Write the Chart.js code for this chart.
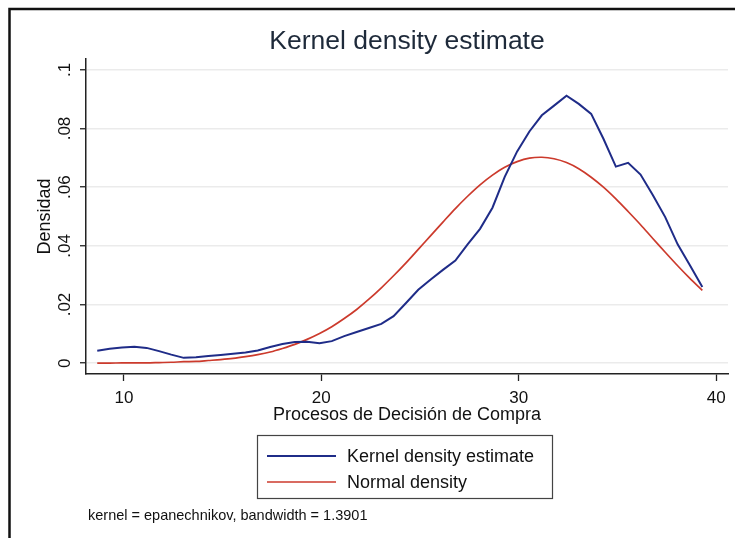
<!DOCTYPE html>
<html>
<head>
<meta charset="utf-8">
<script src="https://cdn.jsdelivr.net/npm/chart.js@4.4.1/dist/chart.umd.min.js"></script>
<style>
  html, body { margin: 0; padding: 0; background: #ffffff; }
  #wrap { width: 735px; height: 538px; }
</style>
</head>
<body>
<div id="wrap"><canvas id="c" width="735" height="538"></canvas></div>
<script>
// Evaluation points of the density (Procesos de Decisión de Compra)
const evalPoints = [
  8.65, 9.28, 9.90, 10.53, 11.15, 11.78, 12.40, 13.03, 13.65, 14.28,
  14.90, 15.53, 16.16, 16.78, 17.41, 18.03, 18.66, 19.28, 19.91, 20.53,
  21.16, 21.79, 22.41, 23.04, 23.66, 24.29, 24.91, 25.54, 26.16, 26.79,
  27.41, 28.04, 28.67, 29.29, 29.92, 30.54, 31.17, 31.79, 32.42, 33.04,
  33.67, 34.29, 34.92, 35.54, 36.17, 36.79, 37.42, 38.05, 38.67, 39.30
];

// Kernel density estimate (epanechnikov)
const kernelDensity = [
  0.0042, 0.0049, 0.0053, 0.0056, 0.0052, 0.0041, 0.0029, 0.0018, 0.0020, 0.0024,
  0.0028, 0.0032, 0.0036, 0.0043, 0.0055, 0.0065, 0.0072, 0.0073, 0.0068, 0.0075,
  0.0092, 0.0106, 0.0120, 0.0134, 0.0160, 0.0205, 0.0250, 0.0285, 0.0318, 0.0350,
  0.0405, 0.0458, 0.0530, 0.0635, 0.0722, 0.0790, 0.0845, 0.0878, 0.0912, 0.0884,
  0.0850, 0.0765, 0.0670, 0.0683, 0.0643, 0.0573, 0.0498, 0.0405, 0.0334, 0.0260
];

// Normal density overlay
const normalDensity = [
  0.0000, 0.0000, 0.0001, 0.0001, 0.0001, 0.0002, 0.0003, 0.0005, 0.0006, 0.0009,
  0.0012, 0.0016, 0.0022, 0.0029, 0.0038, 0.0050, 0.0064, 0.0081, 0.0101, 0.0124,
  0.0152, 0.0183, 0.0218, 0.0257, 0.0298, 0.0342, 0.0388, 0.0435, 0.0481, 0.0527,
  0.0569, 0.0608, 0.0641, 0.0668, 0.0687, 0.0699, 0.0702, 0.0697, 0.0684, 0.0663,
  0.0634, 0.0600, 0.0560, 0.0517, 0.0472, 0.0425, 0.0378, 0.0332, 0.0289, 0.0248
];

const xTicks = [10, 20, 30, 40];
const xTickLabels = ['10', '20', '30', '40'];
const yTicks = [0, 0.02, 0.04, 0.06, 0.08, 0.1];
const yTickLabels = ['0', '.02', '.04', '.06', '.08', '.1'];

const seriesLabels = ['Kernel density estimate', 'Normal density'];
const titleText = 'Kernel density estimate';
const xTitle = 'Procesos de Decisión de Compra';
const yTitle = 'Densidad';
const noteText = 'kernel = epanechnikov, bandwidth = 1.3901';

const BLUE = '#1f2c88';
const RED = '#cc3a2c';
const INK = '#111111';
const AXIS = '#222222';

Chart.defaults.font.family = "'Liberation Sans', Arial, Helvetica, sans-serif";
Chart.defaults.color = INK;

// White page, outer frame, boxed legend and the kernel note
const decorations = {
  id: 'decorations',
  beforeDraw(chart) {
    const ctx = chart.ctx;
    ctx.save();
    ctx.fillStyle = '#ffffff';
    ctx.fillRect(0, 0, chart.width, chart.height);
    ctx.restore();
  },
  afterDraw(chart) {
    const ctx = chart.ctx;
    ctx.save();
    // frame (top and left edges)
    ctx.strokeStyle = '#111111';
    ctx.lineWidth = 2.5;
    ctx.beginPath();
    ctx.moveTo(chart.width, 9);
    ctx.lineTo(9.5, 9);
    ctx.lineTo(9.5, chart.height);
    ctx.stroke();

    // legend box
    const box = { left: 257, top: 435, right: 552, bottom: 498 };
    ctx.strokeStyle = '#444444';
    ctx.lineWidth = 1.2;
    ctx.strokeRect(box.left + 0.5, box.top + 0.5, box.right - box.left, box.bottom - box.top);

    const rows = [456, 482];
    ctx.font = "18px 'Liberation Sans', Arial, sans-serif";
    ctx.textBaseline = 'middle';
    ctx.textAlign = 'left';
    chart.data.datasets.forEach((ds, i) => {
      ctx.strokeStyle = ds.borderColor;
      ctx.lineWidth = ds.borderWidth;
      ctx.beginPath();
      ctx.moveTo(267, rows[i]);
      ctx.lineTo(336, rows[i]);
      ctx.stroke();
      ctx.fillStyle = INK;
      ctx.fillText(ds.label, 347, rows[i] + 1);
    });

    // note
    ctx.font = "14.5px 'Liberation Sans', Arial, sans-serif";
    ctx.fillStyle = INK;
    ctx.fillText(noteText, 88, 516);
    ctx.restore();
  }
};

new Chart(document.getElementById('c'), {
  type: 'line',
  data: {
    datasets: [
      {
        label: seriesLabels[0],
        data: evalPoints.map((x, i) => ({ x: x, y: kernelDensity[i] })),
        borderColor: BLUE,
        borderWidth: 2,
        pointRadius: 0,
        tension: 0,
        fill: false
      },
      {
        label: seriesLabels[1],
        data: evalPoints.map((x, i) => ({ x: x, y: normalDensity[i] })),
        borderColor: RED,
        borderWidth: 1.7,
        pointRadius: 0,
        tension: 0.3,
        fill: false
      }
    ]
  },
  options: {
    responsive: false,
    animation: false,
    devicePixelRatio: 1,
    layout: { padding: { left: 8, right: 7, top: 0, bottom: 110 } },
    plugins: {
      legend: { display: false },
      tooltip: { enabled: false },
      title: {
        display: true,
        text: titleText,
        fullSize: false,
        color: '#1e2a3a',
        font: { size: 26.5, weight: 'normal' },
        padding: { top: 26, bottom: 1.2 }
      }
    },
    scales: {
      x: {
        type: 'linear',
        min: 8.08,
        max: 40.6,
        afterBuildTicks: s => { s.ticks = xTicks.map(v => ({ value: v })); },
        afterFit: s => { s.height = 54; },
        grid: { drawOnChartArea: false, drawTicks: true, tickLength: 7, tickColor: AXIS, tickWidth: 1.3 },
        border: { display: true, color: AXIS, width: 1.5 },
        ticks: {
          autoSkip: false,
          maxRotation: 0,
          padding: 7.5,
          color: INK,
          font: { size: 17 },
          callback: (v, i) => xTickLabels[i]
        },
        title: {
          display: true,
          text: xTitle,
          color: INK,
          font: { size: 18 },
          padding: { top: 0, bottom: 1.7 }
        }
      },
      y: {
        type: 'linear',
        min: -0.0037,
        max: 0.1037,
        afterBuildTicks: s => { s.ticks = yTicks.map(v => ({ value: v })); },
        afterFit: s => { s.width = 78; },
        grid: { color: '#ebebeb', lineWidth: 1.5, drawTicks: true, tickLength: 6, tickColor: AXIS, tickWidth: 1.3 },
        border: { display: true, color: AXIS, width: 1.5 },
        ticks: {
          autoSkip: false,
          minRotation: 90,
          maxRotation: 90,
          crossAlign: 'center',
          padding: 3,
          color: INK,
          font: { size: 17 },
          callback: (v, i) => yTickLabels[i]
        },
        title: {
          display: true,
          text: yTitle,
          color: INK,
          font: { size: 18 },
          padding: { top: 26, bottom: 0 }
        }
      }
    }
  },
  plugins: [decorations]
});
</script>
</body>
</html>
